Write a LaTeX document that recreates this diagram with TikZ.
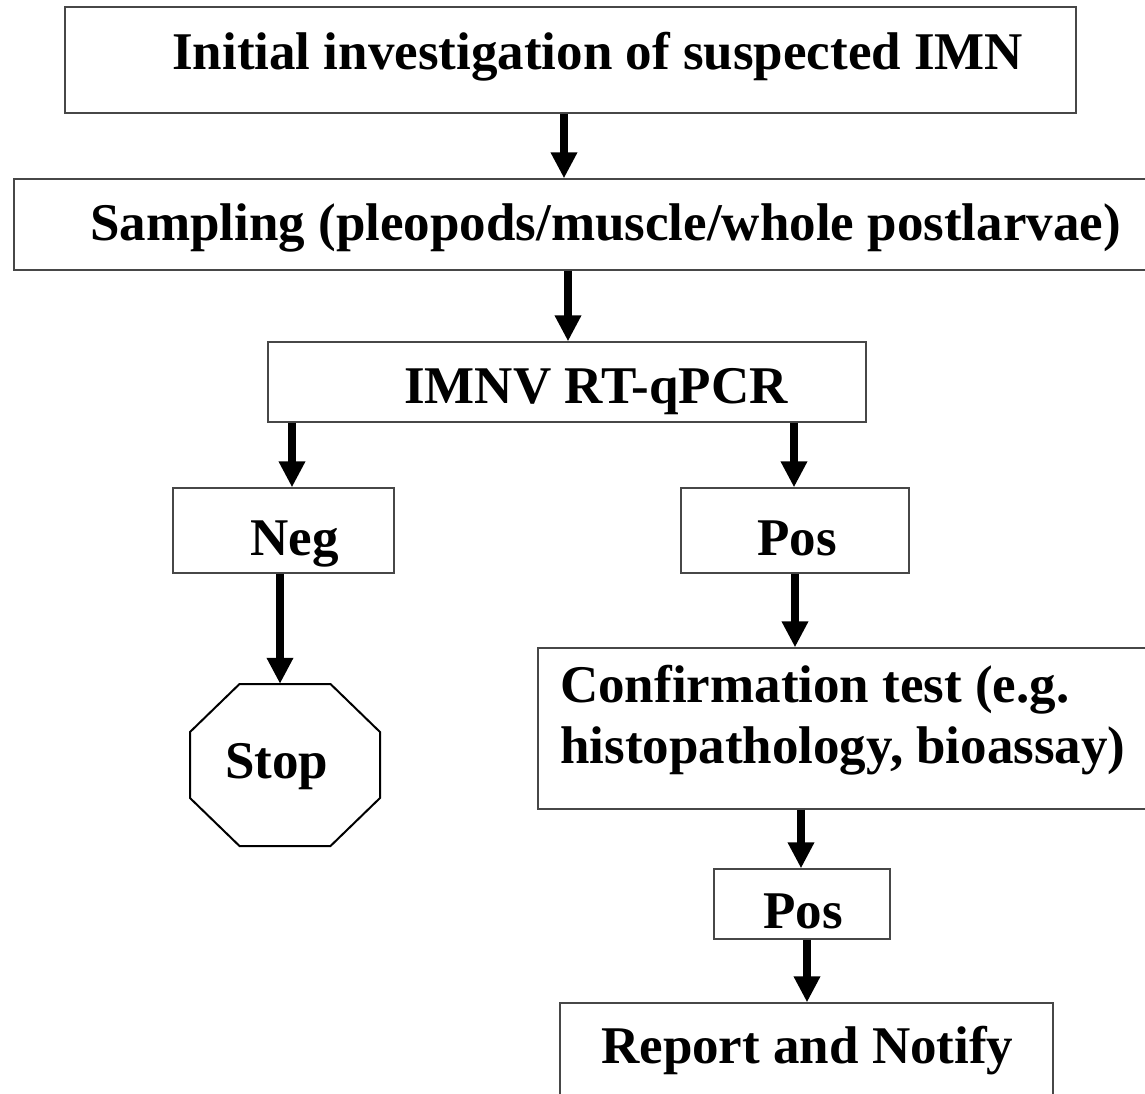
\documentclass[tikz,border=0pt]{standalone}
\usepackage{fontspec}
\setmainfont{Liberation Serif}
\usetikzlibrary{arrows.meta}
\begin{document}
\begin{tikzpicture}[x=1pt,y=-1pt,
  boxnode/.style={draw=black!72,line width=1.3pt,inner sep=0pt,minimum width=#1},
  txt/.style={anchor=base west,inner sep=0pt,font=\bfseries\fontsize{53}{61}\selectfont},
  arr/.style={line width=8.5pt,-{Triangle[width=25pt,length=26pt]}}]
\useasboundingbox (0,0) rectangle (1145,1093);
\clip (0,0) rectangle (1145,1093);
\fill[white] (0,0) rectangle (1145,1093);
% boxes
\node[boxnode=1011pt,minimum height=106pt] (b1) at (570.5,60) {};
\node[boxnode=1146pt,minimum height=91pt] (b2) at (587,224.5) {};
\node[boxnode=598pt,minimum height=80pt] (b3) at (567,382) {};
\node[boxnode=221pt,minimum height=85pt] (neg) at (283.5,530.5) {};
\node[boxnode=228pt,minimum height=85pt] (pos) at (795,530.5) {};
\node[inner sep=0pt,minimum width=190pt,minimum height=162pt] (stop) at (285,765) {};
\node[boxnode=622pt,minimum height=161pt] (conf) at (849,728.5) {};
\node[boxnode=176pt,minimum height=70pt] (pos2) at (802,904) {};
\node[boxnode=493pt,minimum height=107pt] (rep) at (806.5,1056.5) {};
% octagon
\draw[line width=2pt,line join=miter]
  ([shift={(-45.5,-81)}]stop.center) -- ([shift={(45.5,-81)}]stop.center)
  -- ([shift={(95,-33)}]stop.center) -- ([shift={(95,33)}]stop.center)
  -- ([shift={(45.5,81)}]stop.center) -- ([shift={(-45.5,81)}]stop.center)
  -- ([shift={(-95,33)}]stop.center) -- ([shift={(-95,-33)}]stop.center) -- cycle;
% texts
\node[txt] (t1) at (172,69) {Initial investigation of suspected IMN};
\node[txt] (t2) at (90,240) {Sampling (pleopods/muscle/whole postlarvae)};
\node[txt] (t3) at (404,403) {IMNV RT-qPCR};
\node[txt] (tneg) at (250,555) {Neg};
\node[txt] (tpos) at (757,555) {Pos};
\node[txt] (tstop) at (225,778) {Stop};
\node[txt] (tconfa) at (560,702) {Confirmation test (e.g.};
\node[txt] (tconfb) at (560,763) {histopathology, bioassay)};
\node[txt] (tpos2) at (763,928) {Pos};
\node[txt] (trep) at (601,1063) {Report and Notify};
% arrows
\draw[arr] ([xshift=-6.5pt]b1.south) -- ([xshift=-23pt]b2.north);
\draw[arr] ([xshift=-19pt]b2.south) -- ([xshift=1pt]b3.north);
\draw[arr] ([xshift=-275pt]b3.south) -- ([xshift=8.5pt]neg.north);
\draw[arr] ([xshift=227pt]b3.south) -- ([xshift=-1pt]pos.north);
\draw[arr] ([xshift=-3.5pt]neg.south) -- ([xshift=-5pt]stop.north);
\draw[arr] ([xshift=0pt]pos.south) -- ([xshift=-54pt]conf.north);
\draw[arr] ([xshift=-48pt]conf.south) -- ([xshift=-1pt]pos2.north);
\draw[arr] ([xshift=5pt]pos2.south) -- ([xshift=0.5pt]rep.north);
\end{tikzpicture}
\end{document}
